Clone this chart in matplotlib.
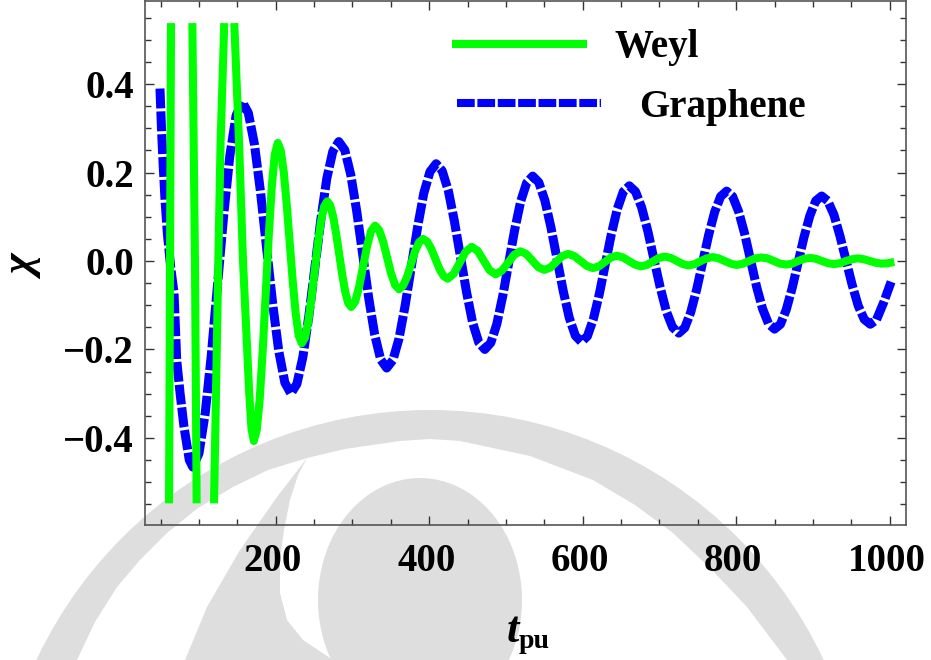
import numpy as np
import matplotlib
matplotlib.use("Agg")
import matplotlib.pyplot as plt
from matplotlib.patches import Ellipse, Polygon
from matplotlib.ticker import MultipleLocator, FixedLocator
from matplotlib.transforms import ScaledTranslation

plt.rcParams["font.family"] = ["Liberation Serif", "DejaVu Serif"]
plt.rcParams["axes.unicode_minus"] = True

names = ["Weyl", "Graphene"]

# nan = the curve leaves the plot range there
weyl_t = [61.0, 62.3, 63.6, np.nan, 91.4, 94.8, 97, np.nan, 119.6, 122.2, 125.2, 128.2, 133, np.nan,
          146, 152.2, 157.4, 161.4, 165.5, 168.5, 171.5,
          175.4, 179.3, 183.2, 187.1, 191, 194.9, 198.8, 202.7,
          206.6, 210.5, 214.4, 218.3, 222.2, 226.1, 230, 233.9,
          238.1, 242.2, 246.4, 250.5, 254.7, 258.8, 263, 267.1,
          271, 274.9, 278.8, 282.7, 286.6, 290.5, 294.4, 298.3,
          303.5, 308.7, 313.9, 319.1, 324.3, 329.5,
          334.7, 339.9, 345.1, 350.3, 355.5, 360.7,
          365.9, 371.1, 376.3, 381.5, 386.7, 391.9,
          397.3, 402.6, 408, 413.4, 418.7, 424.1,
          431.9, 439.7, 447.5, 455.3, 463.1, 470.9, 478.7, 486.5,
          494.6, 502.6, 510.7, 518.7, 526.5, 534.3, 542.1, 549.9,
          557.7, 565.5, 573.3, 581.1, 589.2, 597.3, 605.3, 613.4,
          621.2, 629, 636.8, 644.6, 652.4, 660.2, 668, 675.8,
          683.6, 691.4, 699.2, 707, 714.8, 722.6, 730.4, 738.2,
          746, 753.8, 761.6, 769.4, 777.2, 785, 792.8, 800.6,
          808.7, 816.7, 824.8, 832.8, 840.9, 848.9, 857, 865,
          872.8, 880.6, 888.4, 896.2, 904, 911.8, 919.6, 927.4,
          935.2, 943, 950.8, 958.6, 966.4, 974.2, 982, 989.8,
          997.8, 1005.9]
weyl_chi = [-0.548, 0.0, 0.538, np.nan, 0.538, 0.0, -0.548, np.nan, -0.548, -0.30, 0.0, 0.27, 0.538, np.nan,
            0.538, 0.27, 0.0, -0.149, -0.30, -0.38, -0.407,
            -0.381, -0.309, -0.199, -0.07, 0.059, 0.169, 0.241, 0.267,
            0.25, 0.201, 0.127, 0.04, -0.046, -0.12, -0.169, -0.186,
            -0.174, -0.139, -0.087, -0.026, 0.036, 0.088, 0.123, 0.135,
            0.126, 0.1, 0.061, 0.016, -0.03, -0.069, -0.095, -0.104,
            -0.092, -0.058, -0.012, 0.034, 0.068, 0.08,
            0.07, 0.044, 0.008, -0.028, -0.054, -0.064,
            -0.056, -0.036, -0.007, 0.022, 0.042, 0.05,
            0.044, 0.028, 0.005, -0.018, -0.034, -0.04,
            -0.029, -0.004, 0.021, 0.032, 0.023, 0.001, -0.021, -0.03,
            -0.022, -0.004, 0.014, 0.022, 0.016, 0.001, -0.014, -0.02,
            -0.015, -0.002, 0.011, 0.016, 0.011, 0.0, -0.011, -0.016,
            -0.012, -0.002, 0.008, 0.012, 0.008, 0.0, -0.008, -0.012,
            -0.009, -0.001, 0.007, 0.01, 0.007, 0.0, -0.007, -0.01,
            -0.007, 0.0, 0.006, 0.009, 0.006, 0.0, -0.006, -0.009,
            -0.006, 0.0, 0.006, 0.008, 0.006, 0.0, -0.006, -0.008,
            -0.006, 0.0, 0.005, 0.007, 0.005, 0.0, -0.005, -0.007,
            -0.005, 0.0, 0.004, 0.006, 0.004, 0.0, -0.004, -0.006,
            -0.005, -0.002]

graphene_t = [49.2, 51.4, 53.5, 55.8, 58.8, 63.1, 67.5, 69.2, 71, 75.4, 80.5, 87.4, 92,
              100, 108.1, 116.2, 124.2, 132.3, 140.3, 148.4, 156.4,
              164.3, 172.3, 180.2, 188.1, 196, 204, 211.9, 219.8,
              227.6, 235.4, 243.2, 251, 258.8, 266.6, 274.4, 282.2,
              290, 297.8, 305.6, 313.4, 321.2, 329, 336.8, 344.6,
              352.7, 360.7, 368.8, 376.8, 384.9, 392.9, 401, 409,
              416.9, 424.9, 432.8, 440.7, 448.6, 456.5, 464.5, 472.4,
              480.2, 488, 495.8, 503.6, 511.4, 519.2, 527, 534.8,
              542.7, 550.7, 558.6, 566.6, 574.5, 582.4, 590.4, 598.3,
              606.1, 613.9, 621.7, 629.5, 637.3, 645.1, 652.9, 660.7,
              668.8, 676.8, 684.9, 692.9, 701, 709, 717.1, 725.1,
              732.9, 740.7, 748.5, 756.3, 764.1, 771.9, 779.7, 787.5,
              795.3, 803.1, 810.9, 818.7, 826.5, 834.3, 842.1, 849.9,
              857.6, 865.2, 872.9, 880.6, 888.3, 896, 903.6, 911.3,
              919.2, 927.2, 935.1, 943, 950.9, 958.9, 966.8, 974.7,
              982.7, 991.8, 1001.8]
graphene_chi = [0.39, 0.29, 0.213, 0.138, 0.063, -0.013, -0.072, -0.149, -0.224, -0.299, -0.375, -0.45, -0.466,
                -0.435, -0.345, -0.211, -0.053, 0.105, 0.239, 0.329, 0.36,
                0.335, 0.264, 0.156, 0.03, -0.096, -0.204, -0.275, -0.30,
                -0.278, -0.217, -0.124, -0.015, 0.094, 0.187, 0.248, 0.27,
                0.251, 0.195, 0.112, 0.014, -0.084, -0.167, -0.223, -0.242,
                -0.224, -0.175, -0.099, -0.011, 0.077, 0.153, 0.202, 0.22,
                0.204, 0.159, 0.09, 0.01, -0.07, -0.139, -0.184, -0.20,
                -0.185, -0.143, -0.079, -0.004, 0.071, 0.135, 0.177, 0.192,
                0.178, 0.137, 0.076, 0.004, -0.067, -0.128, -0.169, -0.183,
                -0.17, -0.131, -0.074, -0.006, 0.061, 0.118, 0.157, 0.17,
                0.157, 0.121, 0.067, 0.003, -0.06, -0.114, -0.15, -0.163,
                -0.151, -0.116, -0.064, -0.002, 0.059, 0.111, 0.146, 0.158,
                0.146, 0.112, 0.062, 0.002, -0.058, -0.108, -0.142, -0.154,
                -0.143, -0.11, -0.061, -0.004, 0.054, 0.103, 0.136, 0.147,
                0.136, 0.105, 0.057, 0.002, -0.053, -0.101, -0.132, -0.143,
                -0.133, -0.095, -0.047]

x_ticks = [200, 400, 600, 800, 1000]
y_ticks = [-0.4, -0.2, 0.0, 0.2, 0.4]
y_labels = ["\u22120.4", "\u22120.2", "0.0", "0.2", "0.4"]

W, H = 931, 660
fig = plt.figure(figsize=(W / 100, H / 100), dpi=100, facecolor="white")

# watermark behind the plot, in pixel coords of the page
bg = fig.add_axes([0, 0, 1, 1], zorder=0)
bg.set_xlim(0, W)
bg.set_ylim(H, 0)
bg.axis("off")
gray = "#dedede"
bg.add_patch(Ellipse((430, 845), 870, 870, color=gray, lw=0))
crescent = [(307, 458), (345, 449), (400, 441), (430, 439), (460, 441), (530, 456), (593, 480), (635, 505),
            (673, 533), (712, 570), (747, 607), (787, 660), (333, 660), (303, 640), (287, 620), (280, 593),
            (280, 560), (284, 530), (290, 500), (298, 475)]
wedge = [(307, 458), (268, 470), (233, 487), (198, 508), (167, 533), (140, 560), (117, 587), (95, 622), (77, 660),
         (185, 660), (207, 607), (240, 550), (277, 497)]
bg.add_patch(Polygon(crescent, closed=True, color="white", lw=0))
bg.add_patch(Polygon(wedge, closed=True, color="white", lw=0))
bg.add_patch(Ellipse((420, 600), 204, 244, color=gray, lw=0))

ax = fig.add_axes([145 / W, 1 - 525 / H, (905.7 - 145) / W, (525 - 1) / H], zorder=1)
ax.patch.set_alpha(0)
ax.set_xlim(29.7, 1020.8)
ax.set_ylim(-0.597, 0.588)

graphene_line, = ax.plot(graphene_t, graphene_chi, color="#0000ff", lw=6.5,
                         linestyle=(0, (2.2, 0.33)), dash_capstyle="butt", dash_joinstyle="round")
weyl_line, = ax.plot(weyl_t, weyl_chi, color="#00ff00", lw=5.8,
                     solid_capstyle="butt", solid_joinstyle="round")

ax.xaxis.set_major_locator(FixedLocator(x_ticks))
ax.xaxis.set_minor_locator(MultipleLocator(50))
ax.yaxis.set_major_locator(FixedLocator(y_ticks))
ax.yaxis.set_minor_locator(MultipleLocator(0.05))
ax.set_yticklabels(y_labels)

ax.tick_params(which="both", direction="in", top=True, right=True, color="#333333")
ax.tick_params(which="major", length=6.5, width=1.0)
ax.tick_params(which="minor", length=4, width=1.0)
ax.tick_params(axis="x", which="major", pad=13, labelsize=28)
ax.tick_params(axis="y", which="major", pad=8, labelsize=28)
shift = ScaledTranslation(-3 / 100, 0, fig.dpi_scale_trans)
for lab in ax.get_xticklabels():
    lab.set_fontweight("bold")
    lab.set_transform(lab.get_transform() + shift)
for lab in ax.get_yticklabels():
    lab.set_fontweight("bold")
for s in ax.spines.values():
    s.set_color("#555555")
    s.set_linewidth(1.2)

# axis titles
fig.text(26 / W, 1 - 269 / H, "\u03c7", rotation=90, fontsize=32, fontweight="bold", fontstyle="italic",
         ha="center", va="center")
fig.text(507 / W, 1 - 642 / H, "t", fontsize=32, fontweight="bold", fontstyle="italic", ha="left", va="baseline")
fig.text(519 / W, 1 - 648 / H, "pu", fontsize=20, fontweight="bold", ha="left", va="baseline")

# two separate legends because the rows are not aligned
font = {"family": "Liberation Serif", "weight": "bold", "size": 28}
leg1 = ax.legend([weyl_line], [names[0]], prop=font, frameon=False, loc="center left",
                 bbox_to_anchor=(452 / W, 1 - 48 / H), bbox_transform=fig.transFigure,
                 borderpad=0, borderaxespad=0, handlelength=135 / 38.9, handletextpad=28 / 38.9)
ax.add_artist(leg1)
leg2 = ax.legend([graphene_line], [names[1]], prop=font, frameon=False, loc="center left",
                 bbox_to_anchor=(457 / W, 1 - 107 / H), bbox_transform=fig.transFigure,
                 borderpad=0, borderaxespad=0, handlelength=144 / 38.9, handletextpad=38 / 38.9)
leg2.get_lines()[0].set_linewidth(5.8)

fig.savefig("out.png", dpi=100)
